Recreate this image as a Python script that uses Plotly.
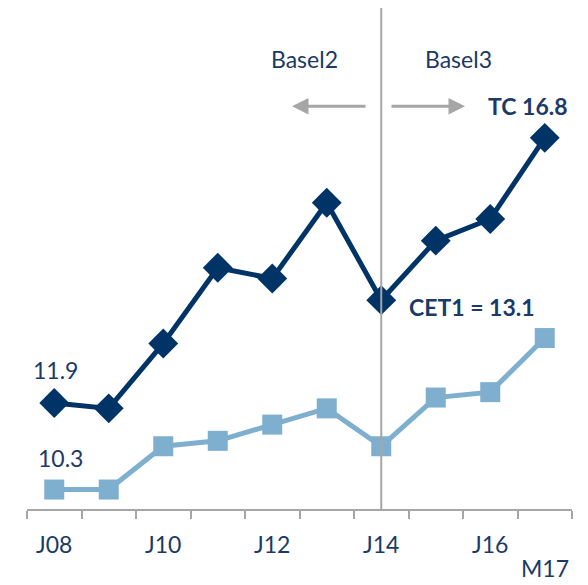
import plotly.graph_objects as go

categories = ["J08", "J09", "J10", "J11", "J12", "J13", "J14", "J15", "J16", "M17"]
tc_values = [11.9, 11.8, 13.0, 14.4, 14.2, 15.6, 13.8, 14.9, 15.3, 16.8]
cet1_values = [10.3, 10.3, 11.1, 11.2, 11.5, 11.8, 11.1, 12.0, 12.1, 13.1]
tick_labels = ["J08", "", "J10", "", "J12", "", "J14", "", "J16", ""]
second_row_label = "M17"

DARK = "#003366"
LIGHT = "#7FAFCF"
TEXT = "#1B3A66"
GRAY = "#A6A6A6"
FONT = "Lato, Open Sans, sans-serif"
FS = 23

xi = list(range(len(categories)))

fig = go.Figure()
fig.add_trace(go.Scatter(x=xi, y=cet1_values, mode="lines+markers",
                         line=dict(color=LIGHT, width=5),
                         marker=dict(symbol="square", size=20, color=LIGHT),
                         hoverinfo="skip"))
fig.add_trace(go.Scatter(x=xi, y=tc_values, mode="lines+markers",
                         line=dict(color=DARK, width=5),
                         marker=dict(symbol="diamond", size=23, color=DARK),
                         hoverinfo="skip"))

div_idx = categories.index("J14")
fig.add_shape(type="line", xref="x", yref="paper", x0=div_idx, x1=div_idx,
              y0=0, y1=1.0, line=dict(color=GRAY, width=2), layer="above")

ann = []
ann.append(dict(x=0, y=tc_values[0], xref="x", yref="y", text="11.9", showarrow=False,
                yshift=33, xshift=1, font=dict(size=FS, color=TEXT)))
ann.append(dict(x=0, y=cet1_values[0], xref="x", yref="y", text="10.3", showarrow=False,
                yshift=32, xshift=6, font=dict(size=FS, color=TEXT)))
ann.append(dict(x=9, y=tc_values[-1], xref="x", yref="y", text="<b>TC 16.8</b>", showarrow=False,
                yshift=32, xshift=-17, font=dict(size=FS, color=TEXT)))
ann.append(dict(x=9, y=cet1_values[-1], xref="x", yref="y", text="<b>CET1 = 13.1</b>", showarrow=False,
                yshift=31, xshift=-73, font=dict(size=FS, color=TEXT)))
ann.append(dict(x=div_idx, y=0.9296, xref="x", yref="paper", text="Basel2", showarrow=False,
                xshift=-77, font=dict(size=FS, color=TEXT)))
ann.append(dict(x=div_idx, y=0.9296, xref="x", yref="paper", text="Basel3", showarrow=False,
                xshift=77, font=dict(size=FS, color=TEXT)))
ann.append(dict(x=9, y=0, xref="x", yref="paper", text=second_row_label, showarrow=False,
                yanchor="middle", yshift=-59, font=dict(size=FS, color=TEXT)))
# arrows
ann.append(dict(x=4.362, y=0.804, xref="x", yref="paper", ax=5.739, ay=0,
                axref="x", ayref="pixel", text="", showarrow=True, arrowhead=2,
                arrowsize=1.1, arrowwidth=3, arrowcolor=GRAY))
ann.append(dict(x=7.537, y=0.804, xref="x", yref="paper", ax=6.16, ay=0,
                axref="x", ayref="pixel", text="", showarrow=True, arrowhead=2,
                arrowsize=1.1, arrowwidth=3, arrowcolor=GRAY))

fig.update_layout(
    width=588, height=585,
    margin=dict(l=19, r=24, t=0, b=84, autoexpand=False),
    paper_bgcolor="white", plot_bgcolor="white",
    showlegend=False,
    font=dict(family=FONT, color=TEXT, size=FS),
    annotations=ann,
    xaxis=dict(range=[-0.5, 9.5], tickmode="array", tickvals=xi, ticktext=tick_labels,
               showgrid=False, zeroline=False, showline=True, linecolor=GRAY, linewidth=2,
               ticks="", tickfont=dict(size=FS, color=TEXT), fixedrange=True,
               ticklabelstandoff=14,
               minor=dict(tick0=-0.5, dtick=1, ticks="outside", ticklen=8,
                          tickcolor=GRAY, tickwidth=2, showgrid=False)),
    yaxis=dict(range=[9.94, 19.2], visible=False, showgrid=False, zeroline=False, fixedrange=True),
)

fig.write_html("out.html")
